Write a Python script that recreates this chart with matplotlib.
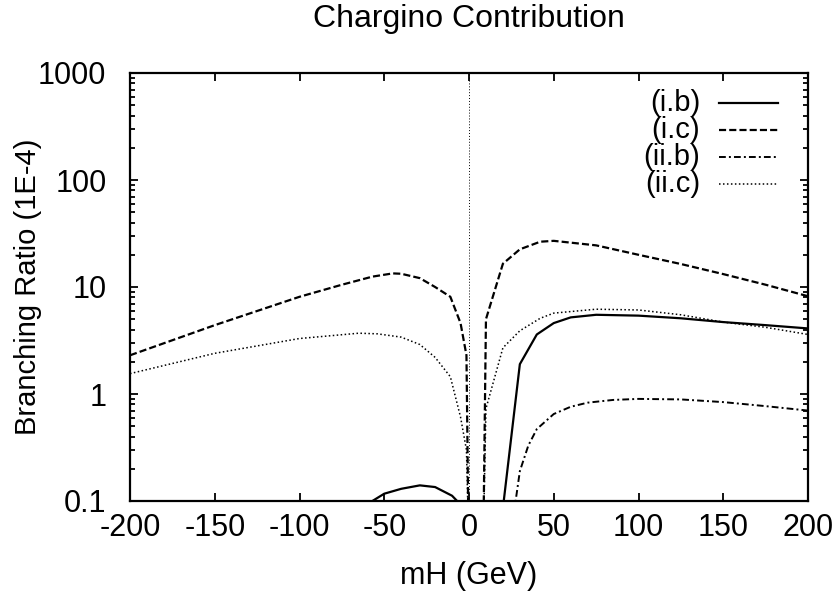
import numpy as np
import matplotlib
matplotlib.use('Agg')
import matplotlib.pyplot as plt

# dados (mH em GeV, razao de ramificacao em 1E-4)
x_ib_neg = [-62, -57, -50, -40, -29, -20, -10, -7, -5]
y_ib_neg = [0.09, 0.1, 0.117, 0.13, 0.14, 0.135, 0.112, 0.1, 0.09]
x_ib_pos = [19, 20.5, 30, 40, 50, 60, 75, 100, 125, 150, 175, 200]
y_ib_pos = [0.08, 0.1, 1.9, 3.6, 4.6, 5.2, 5.5, 5.4, 5.1, 4.7, 4.4, 4.1]

x_ic = [-200, -150, -100, -75, -57, -45, -40, -29, -20, -11, -5, -1.5, -0.3,
        8.5, 10, 20, 30, 42, 50, 75, 100, 125, 150, 175, 200]
y_ic = [2.3, 4.4, 8.1, 10.5, 12.5, 13.4, 13.3, 12.1, 10, 8.1, 4.6, 2.3, 0.05,
        0.05, 5.0, 16.5, 22.5, 26.5, 27.0, 24.5, 20, 16.4, 13.2, 10.5, 8.2]

x_iib = [26, 27.5, 30, 35, 40, 50, 60, 70, 85, 100, 125, 150, 175, 200]
y_iib = [0.08, 0.1, 0.19, 0.33, 0.47, 0.65, 0.76, 0.83, 0.88, 0.9, 0.89, 0.84, 0.77, 0.7]

x_iic = [-200, -150, -100, -65, -54, -40, -29, -20, -11, -5, -1.5, -0.3,
         8.5, 10, 20, 30, 42, 50, 75, 100, 125, 150, 175, 200]
y_iic = [1.55, 2.4, 3.3, 3.7, 3.65, 3.4, 2.9, 2.2, 1.45, 0.61, 0.3, 0.05,
         0.05, 0.73, 2.7, 3.9, 5.1, 5.7, 6.2, 6.1, 5.5, 4.7, 4.2, 3.6]

legendas = ['(i.b)', '(i.c)', '(ii.b)', '(ii.c)']
estilos = ['-', (0, (3.2, 1.4)), (0, (3.5, 1.6, 1.0, 1.6)), (0, (1, 1.6))]
larguras = [1.6, 1.6, 1.4, 1.1]

plt.rcParams['font.family'] = ['Liberation Sans', 'DejaVu Sans']
plt.rcParams['font.size'] = 22
plt.rcParams['axes.unicode_minus'] = False

fig = plt.figure(figsize=(8.4, 5.92), dpi=100)
ax = fig.add_axes([130 / 840, 1 - 501 / 592, 678 / 840, 428 / 592])

series = [(np.concatenate([x_ib_neg, [np.nan], x_ib_pos]),
           np.concatenate([y_ib_neg, [np.nan], y_ib_pos])),
          (x_ic, y_ic), (x_iib, y_iib), (x_iic, y_iic)]

for (xs, ys), ls, lw in zip(series, estilos, larguras):
    ax.plot(xs, ys, color='black', linestyle=ls, linewidth=lw)

# linha vertical em zero (zeroaxis do gnuplot)
ax.axvline(0, color='black', linestyle=(0, (1, 2)), linewidth=0.7)

ax.set_yscale('log')
ax.set_xlim(-200, 200)
ax.set_ylim(0.1, 1000)
ax.set_xticks(np.arange(-200, 201, 50))
ax.set_yticks([0.1, 1, 10, 100, 1000])
ax.set_yticklabels(['0.1', '1', '10', '100', '1000'])
ax.tick_params(which='both', direction='in', top=True, right=True, width=1.3)
ax.tick_params(which='major', length=6)
ax.tick_params(which='minor', length=3.5)
ax.tick_params(axis='y', pad=17)
ax.tick_params(axis='x', pad=9)
for s in ax.spines.values():
    s.set_linewidth(1.6)

ax.set_xlabel('mH (GeV)', fontsize=22)
ax.xaxis.set_label_coords(0.5, -0.14)
ax.set_ylabel('Branching Ratio (1E-4)', fontsize=21)
ax.yaxis.set_label_coords(-0.13, 0.5)

fig.text(469 / 840, 1 - 19 / 592, 'Chargino Contribution', ha='center', va='center',
         fontsize=23)

# legenda estilo gnuplot (texto a direita alinhado, amostra de linha depois)
ylegs = [0.930, 0.867, 0.804, 0.741]
for nome, ls, lw, yl in zip(legendas, estilos, larguras, ylegs):
    ax.text(0.841, yl, nome, transform=ax.transAxes, ha='right', va='center',
            fontsize=21)
    ax.plot([0.868, 0.956], [yl, yl], transform=ax.transAxes, color='black',
            linestyle=ls, linewidth=lw)

fig.savefig('out.png', dpi=100)
